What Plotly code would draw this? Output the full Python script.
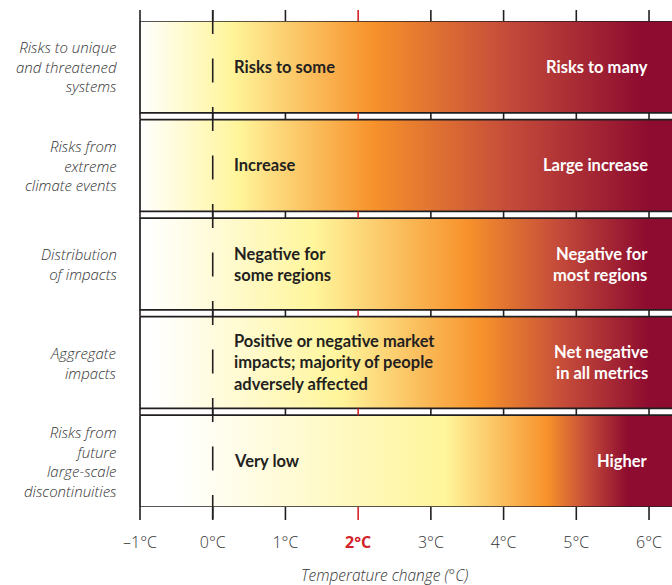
import plotly.graph_objects as go

# ---------------- data ----------------
CATEGORIES = [
    "Risks to unique<br>and threatened<br>systems",
    "Risks from<br>extreme<br>climate events",
    "Distribution<br>of impacts",
    "Aggregate<br>impacts",
    "Risks from<br>future<br>large-scale<br>discontinuities",
]
LOW_LABELS = [
    "Risks to some",
    "Increase",
    "Negative for<br>some regions",
    "Positive or negative market<br>impacts; majority of people<br>adversely affected",
    "Very low",
]
HIGH_LABELS = [
    "Risks to many",
    "Large increase",
    "Negative for<br>most regions",
    "Net negative<br>in all metrics",
    "Higher",
]
# ember colours (white -> yellow -> orange -> red -> dark red)
EMBER_COLORS = ["#ffffff", "#fff59b", "#f7922b", "#c44b3a", "#8e0c2f"]
# temperature (°C) at which each ember colour is reached, per row
TRANSITIONS = [
    [-1.0, 0.25, 2.2, 4.05, 5.9],
    [-1.0, 0.35, 2.2, 4.1, 6.0],
    [-0.9, 1.4, 3.5, 4.75, 5.95],
    [-0.8, 1.75, 3.7, 4.85, 6.0],
    [-0.5, 3.2, 4.6, 5.15, 5.7],
]
TICK_VALUES = [-1, 0, 1, 2, 3, 4, 5, 6]
TICK_LABELS = ["–1°C", "0°C", "1°C", "2°C", "3°C", "4°C", "5°C", "6°C"]
HIGHLIGHT_TICK = 2
X_TITLE = "Temperature change (°C)"

# ---------------- style ----------------
DARK = "#231f20"
RED = "#d2232a"
GREY = "#333333"
HALF = 0.466           # half height of a row box (row pitch = 1)
X_MIN, X_MAX = -1.0275, 6.316
X_BOX_RIGHT = 6.8
BOLD_FONT = "Lato"
LIGHT_FONT = "Open Sans"

fig = go.Figure()

for i, stops in enumerate(TRANSITIONS):
    t0, t1 = stops[0], stops[-1]
    cs = [[(t - t0) / (t1 - t0), c] for t, c in zip(stops, EMBER_COLORS)]
    fig.add_trace(go.Scatter(
        x=[TICK_VALUES[0], X_BOX_RIGHT, X_BOX_RIGHT, TICK_VALUES[0], TICK_VALUES[0]],
        y=[i - HALF, i - HALF, i + HALF, i + HALF, i - HALF],
        mode="lines", fill="toself",
        fillgradient=dict(type="horizontal", start=t0, stop=t1, colorscale=cs),
        line=dict(color=DARK, width=1.7),
        hoverinfo="skip", showlegend=False,
    ))

ticktext = [
    f"<span style='color:{RED}'><b>{lab}</b></span>" if v == HIGHLIGHT_TICK else lab
    for v, lab in zip(TICK_VALUES, TICK_LABELS)
]

shapes = []
n = len(CATEGORIES)
W, HT = 672, 585
PLOT_TOP, PLOT_BOT = 21, 507
L_MARGIN = 138
H = PLOT_BOT - PLOT_TOP
plot_w = W - L_MARGIN

def py(p):
    return (PLOT_BOT - p) / H

def px_paper(p):
    return (p - L_MARGIN) / plot_w

for v in TICK_VALUES:
    col = RED if v == HIGHLIGHT_TICK else DARK
    shapes.append(dict(type="line", xref="x", yref="paper", x0=v, x1=v,
                       y0=py(10), y1=1, line=dict(color=col, width=1.6)))
    shapes.append(dict(type="line", xref="x", yref="paper", x0=v, x1=v,
                       y0=0, y1=py(520), line=dict(color=col, width=1.6)))
    for i in range(n - 1):
        shapes.append(dict(type="line", xref="x", yref="y", x0=v, x1=v,
                           y0=i + HALF, y1=i + 1 - HALF, line=dict(color=col, width=1.6)))

# dashed line at 0°C
shapes.append(dict(type="line", xref="x", yref="paper", x0=0, x1=0,
                   y0=py(10), y1=py(519),
                   line=dict(color=DARK, width=1.6, dash="24px,24.5px")))

annotations = []
for i in range(n):
    annotations.append(dict(
        x=px_paper(119), y=i, xref="paper", yref="y", xanchor="right", yanchor="middle",
        text=f"<i>{CATEGORIES[i]}</i>", showarrow=False, align="right",
        font=dict(family=LIGHT_FONT, size=15, color=GREY, weight=300)))
    annotations.append(dict(
        x=0.27, y=i, xref="x", yref="y", xanchor="left", yanchor="middle",
        text=f"<b>{LOW_LABELS[i]}</b>", showarrow=False, align="left",
        font=dict(family=BOLD_FONT, size=16.5, color=DARK)))
    annotations.append(dict(
        x=6.02, y=i, xref="x", yref="y", xanchor="right", yanchor="middle",
        text=f"<b>{HIGH_LABELS[i]}</b>", showarrow=False, align="right",
        font=dict(family=BOLD_FONT, size=16.5, color="white")))

annotations.append(dict(
    x=2.36, y=py(575), xref="x", yref="paper", xanchor="center", yanchor="middle",
    text=f"<i>{X_TITLE}</i>", showarrow=False,
    font=dict(family=LIGHT_FONT, size=15.5, color=GREY, weight=300)))

fig.update_layout(
    width=W, height=HT,
    margin=dict(l=L_MARGIN, r=0, t=PLOT_TOP, b=HT - PLOT_BOT, pad=0),
    paper_bgcolor="white", plot_bgcolor="white",
    xaxis=dict(range=[X_MIN, X_MAX], tickvals=TICK_VALUES, ticktext=ticktext,
               ticks="", showgrid=False, zeroline=False, showline=False,
               ticklabelstandoff=24,
               tickfont=dict(family=LIGHT_FONT, size=16, color=GREY, weight=300)),
    yaxis=dict(range=[n - 1 + HALF, -HALF], showticklabels=False, ticks="",
               showgrid=False, zeroline=False, showline=False),
    shapes=shapes, annotations=annotations,
)

fig.write_html("out.html", config={"displayModeBar": False},
               post_script="document.body.style.margin='0px';")
